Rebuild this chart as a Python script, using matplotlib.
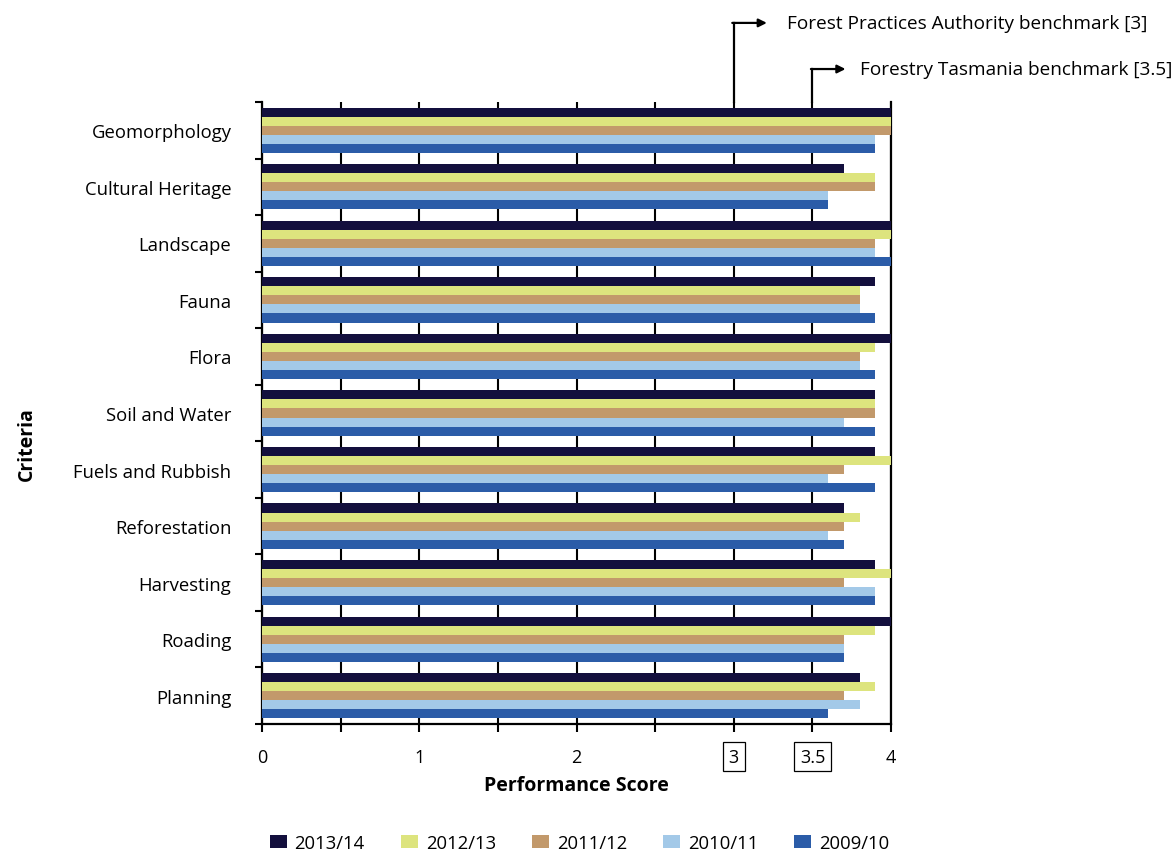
import numpy as np
import matplotlib
matplotlib.use("Agg")
import matplotlib.pyplot as plt
from matplotlib.transforms import blended_transform_factory

plt.rcParams['font.family'] = ['Open Sans', 'DejaVu Sans']

criteria = ["Geomorphology", "Cultural Heritage", "Landscape", "Fauna", "Flora",
            "Soil and Water", "Fuels and Rubbish", "Reforestation", "Harvesting",
            "Roading", "Planning"]
years = ["2013/14", "2012/13", "2011/12", "2010/11", "2009/10"]
colors = ["#130f3d", "#dde47e", "#c2996b", "#a3c9e8", "#2b5ca8"]

s_2013_14 = [4.0, 3.7, 4.0, 3.9, 4.0, 3.9, 3.9, 3.7, 3.9, 4.0, 3.8]
s_2012_13 = [4.0, 3.9, 4.0, 3.8, 3.9, 3.9, 4.0, 3.8, 4.0, 3.9, 3.9]
s_2011_12 = [4.0, 3.9, 3.9, 3.8, 3.8, 3.9, 3.7, 3.7, 3.7, 3.7, 3.7]
s_2010_11 = [3.9, 3.6, 3.9, 3.8, 3.8, 3.7, 3.6, 3.6, 3.9, 3.7, 3.8]
s_2009_10 = [3.9, 3.6, 4.0, 3.9, 3.9, 3.9, 3.9, 3.7, 3.9, 3.7, 3.6]
series = [s_2013_14, s_2012_13, s_2011_12, s_2010_11, s_2009_10]

benchmarks = [3.0, 3.5]
benchmark_text = ["Forest Practices Authority benchmark [3]", "Forestry Tasmania benchmark [3.5]"]

fig = plt.figure(figsize=(11.71, 8.54), dpi=100)
ax = fig.add_axes([0.2237, 0.151, 0.5373, 0.7284])

y = np.arange(len(criteria))
h = 0.16
for i, (vals, lab, c) in enumerate(zip(series, years, colors)):
    ax.barh(y - 2 * h + i * h, vals, height=h, color=c, label=lab, zorder=3)

ax.set_xlim(0, 4)
ax.set_ylim(len(criteria) - 0.5, -0.5)

# vertical grid every half point
ax.set_xticks(np.arange(0, 4.01, 0.5))
ax.set_xticklabels(["0", "", "1", "", "2", "", "3", "3.5", "4"])
ax.grid(axis='x', color='black', lw=1.5, zorder=0)
ax.tick_params(axis='x', direction='out', length=6, width=1.5, labelsize=13, pad=11)
for lbl in ax.get_xticklabels():
    if lbl.get_text() in ("3", "3.5"):
        lbl.set_bbox(dict(facecolor='none', edgecolor='black', lw=0.9, pad=4))

ax.set_yticks(y)
ax.set_yticklabels(criteria)
ax.set_yticks(np.arange(-0.5, len(criteria)), minor=True)
ax.tick_params(axis='y', which='major', length=0, labelsize=13.3, pad=22)
ax.tick_params(axis='y', which='minor', length=5, width=1.5, direction='out')

ax.spines['top'].set_visible(False)
for side in ('left', 'bottom', 'right'):
    ax.spines[side].set_linewidth(1.6)

ax.set_xlabel("Performance Score", fontsize=14, fontweight='bold', labelpad=7)
fig.text(0.023, 0.48, "Criteria", rotation=90, fontsize=14, fontweight='bold',
         ha='center', va='center')

# benchmark callouts above the plot
trans = blended_transform_factory(ax.transData, fig.transFigure)
top = 0.8794
for b, txt, yy, dx in zip(benchmarks, benchmark_text, [0.972, 0.918], [0.34, 0.30]):
    ax.plot([b, b], [top, yy], color='black', lw=1.6, transform=trans, clip_on=False)
    ax.annotate("", xy=(b + 0.21, yy), xytext=(b - 0.01, yy), xycoords=trans,
                textcoords=trans,
                arrowprops=dict(arrowstyle='-|>', color='black', lw=1.6,
                                mutation_scale=12, shrinkA=0, shrinkB=0))
    ax.text(b + dx, yy, txt, transform=trans, fontsize=13.7, va='center', ha='left')

fig.legend(loc='lower center', bbox_to_anchor=(0.495, -0.018), ncol=5, frameon=False,
           fontsize=13.3, handlelength=0.92, handleheight=0.75, handletextpad=0.43,
           columnspacing=1.95)

fig.savefig("out.png", dpi=100)
